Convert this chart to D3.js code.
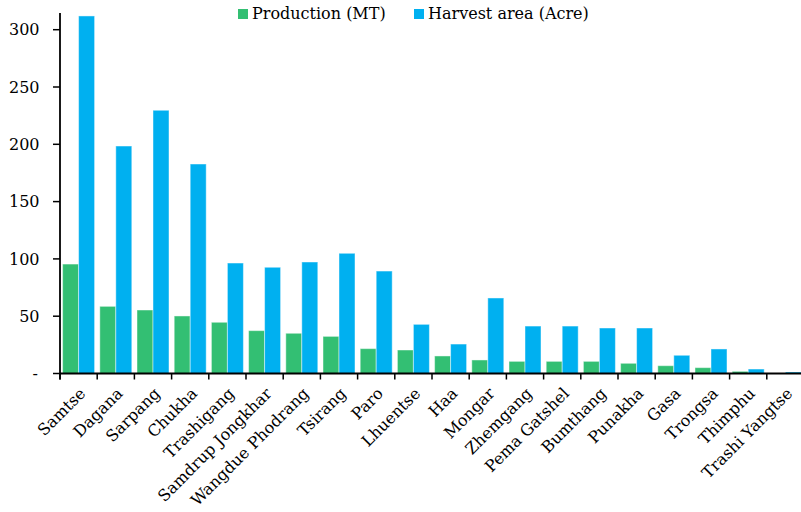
<!DOCTYPE html>
<html><head><meta charset="utf-8">
<script src="https://cdn.jsdelivr.net/npm/d3@7/dist/d3.min.js"></script>
<style>body{margin:0;background:#fff}svg{display:block}text{font-family:"DejaVu Serif",serif}</style>
</head><body><svg id="c" width="801" height="512"></svg>
<script>
const districts=["Samtse","Dagana","Sarpang","Chukha","Trashigang","Samdrup Jongkhar","Wangdue Phodrang","Tsirang","Paro","Lhuentse","Haa","Mongar","Zhemgang","Pema Gatshel","Bumthang","Punakha","Gasa","Trongsa","Thimphu","Trashi Yangtse"];
const production=[95.5,58.6,55.4,50.2,44.7,37.4,35.1,32.4,21.7,20.5,15.3,11.8,10.6,10.6,10.6,8.9,6.8,5.1,1.9,0.3];
const harvestArea=[312,198.5,229.7,182.8,96.4,92.7,97.3,104.9,89.4,42.9,25.7,65.9,41.4,41.4,39.7,39.7,15.9,21.4,3.9,1.3];
const yTicks=[0,50,100,150,200,250,300];
const seriesNames=["Production (MT)","Harvest area (Acre)"];
const colors=["#33BF73","#00B0F0"];

const svg=d3.select("#c");
const x0=60,x1=804,yBase=373.5;
const x=d3.scaleBand().domain(districts).range([x0,x1]).paddingInner(0.14).paddingOuter(0.07);
const xs=d3.scaleBand().domain([0,1]).range([0,x.bandwidth()]);
const y=d3.scaleLinear().domain([0,300]).range([yBase,29.7]);
const yTop=13;

const g=svg.append("g");
districts.forEach((d,i)=>{
  [production[i],harvestArea[i]].forEach((v,k)=>{
    g.append("rect").attr("x",x(d)+xs(k)).attr("y",y(v)).attr("width",xs.bandwidth()).attr("height",yBase-y(v))
     .attr("fill",colors[k]).attr("stroke","#fff").attr("stroke-opacity",0.45).attr("stroke-width",1);
  });
});

// y axis
svg.append("line").attr("x1",x0).attr("x2",x0).attr("y1",yTop).attr("y2",yBase+6).attr("stroke","#000").attr("stroke-width",1.8);
yTicks.forEach(t=>{
  svg.append("line").attr("x1",x0-7).attr("x2",x0).attr("y1",y(t)).attr("y2",y(t)).attr("stroke","#000").attr("stroke-width",1.5);
  svg.append("text").attr("x",t===0?38:39.5).attr("y",y(t)).attr("dy","0.36em").attr("text-anchor","end")
    .attr("font-size",16).attr("fill","#000").text(t===0?"-":t);
});
// x axis
svg.append("line").attr("x1",x0).attr("x2",801).attr("y1",yBase).attr("y2",yBase).attr("stroke","#000").attr("stroke-width",1.8);
const bounds=districts.map(d=>x(d)-x.step()*x.paddingInner()/2);
bounds.forEach(b=>{
  svg.append("line").attr("x1",b).attr("x2",b).attr("y1",yBase).attr("y2",yBase+6).attr("stroke","#000").attr("stroke-width",1.5);
});
districts.forEach(d=>{
  const cx=x(d)+x.bandwidth()/2+4, cy=yBase+17;
  svg.append("text").attr("transform",`translate(${cx},${cy}) rotate(-45)`).attr("text-anchor","end")
    .attr("dy","0.35em").attr("font-size",16).attr("fill","#000").text(d);
});
// legend
const leg=[{sx:238,tx:252},{sx:414,tx:428}];
seriesNames.forEach((n,k)=>{
  svg.append("rect").attr("x",leg[k].sx).attr("y",9).attr("width",10).attr("height",10).attr("fill",colors[k]);
  svg.append("text").attr("x",leg[k].tx).attr("y",19).attr("font-size",16).attr("fill","#000").text(n);
});
</script></body></html>
